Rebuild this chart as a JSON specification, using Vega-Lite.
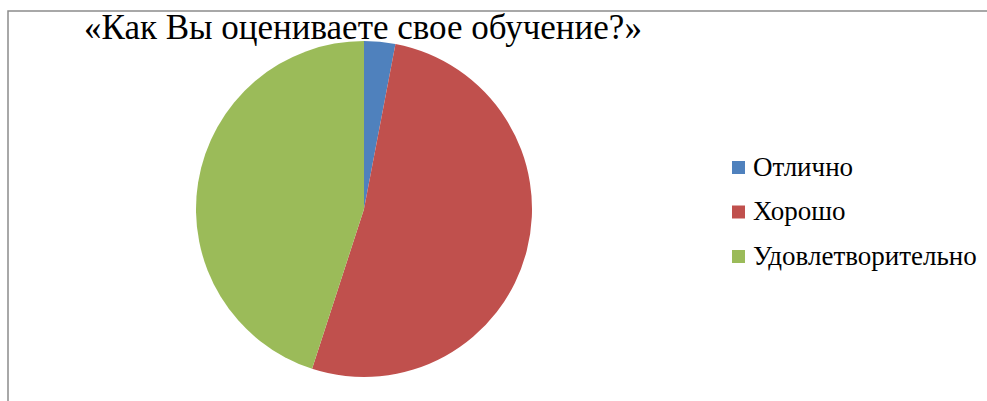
{
  "$schema": "https://vega.github.io/schema/vega-lite/v6.json",
  "width": 985,
  "height": 395,
  "autosize": {"type": "none"},
  "padding": {"left": 8, "top": 11, "right": -6, "bottom": -5},
  "background": "white",
  "view": {"stroke": "#8c8c8c", "strokeWidth": 1.5},
  "config": {
    "font": "Liberation Serif"
  },
  "layer": [
    {
      "data": {
        "values": [
          {"category": "Отлично", "value": 3, "order": 1},
          {"category": "Хорошо", "value": 52, "order": 2},
          {"category": "Удовлетворительно", "value": 45, "order": 3}
        ]
      },
      "mark": {"type": "arc", "x": 356, "y": 198, "outerRadius": 168},
      "encoding": {
        "theta": {"field": "value", "type": "quantitative", "stack": true},
        "order": {"field": "order", "type": "quantitative"},
        "color": {
          "field": "category",
          "type": "nominal",
          "sort": ["Отлично", "Хорошо", "Удовлетворительно"],
          "scale": {
            "domain": ["Отлично", "Хорошо", "Удовлетворительно"],
            "range": ["#4F81BD", "#C0504D", "#9BBB59"]
          },
          "legend": {
            "title": null,
            "orient": "none",
            "legendX": 717,
            "legendY": 143,
            "symbolType": "square",
            "symbolSize": 169,
            "symbolStrokeWidth": 0,
            "labelFont": "Liberation Serif",
            "labelFontSize": 27,
            "labelColor": "black",
            "labelOffset": 1,
            "labelLimit": 400,
            "rowPadding": 16.5
          }
        }
      }
    },
    {
      "data": {"values": [{"title": "«Как Вы оцениваете свое обучение?»"}]},
      "mark": {
        "type": "text",
        "x": 76,
        "y": 28,
        "align": "left",
        "baseline": "alphabetic",
        "font": "Liberation Serif",
        "fontSize": 35,
        "color": "black"
      },
      "encoding": {
        "text": {"field": "title", "type": "nominal"}
      }
    }
  ]
}
